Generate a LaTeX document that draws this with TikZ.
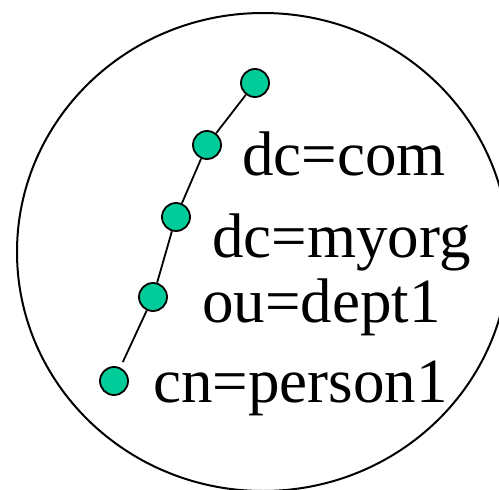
\documentclass[tikz,border=0pt]{standalone}
\usepackage{fontspec}
\setmainfont{Liberation Serif}
\usepackage{tikz}
\usetikzlibrary{positioning}
\definecolor{entrygreen}{RGB}{0,204,153}

\tikzset{
  entry/.style={circle,draw=black,line width=1.8pt,fill=entrygreen,minimum size=28pt,inner sep=0pt},
  link/.style={line width=1.8pt},
  rdn/.style={anchor=base west,inner sep=0pt,font=\fontsize{63}{63}\selectfont}
}

\begin{document}
\begin{tikzpicture}[x=1pt,y=-1pt]
  \useasboundingbox (0,0) rectangle (499,490);
  % 目录树外框
  \draw[line width=2pt] (263,252) ellipse [x radius=246,y radius=239];

  % 条目
  \node[entry] (root) at (255,83) {};
  \node[entry] (com) at (207,145) {};
  \node[entry] (myorg) at (176,217) {};
  \node[entry] (dept) at (153,297) {};
  \node[entry] (person) at (114,381) {};

  \draw[link] (root) -- (com);
  \draw[link] (com) -- (myorg);
  \draw[link] (myorg) -- (dept);
  \draw[link,shorten >=6pt] (dept) -- (person);

  % 名称
  \node[rdn] (lcom) at (242,175) {dc=com};
  \node[rdn] (lmyorg) at (212,257) {dc=myorg};
  \node[rdn] (ldept) at (202,322) {ou=dept1};
  \node[rdn] (lperson) at (153,402) {cn=person1};
\end{tikzpicture}
\end{document}
